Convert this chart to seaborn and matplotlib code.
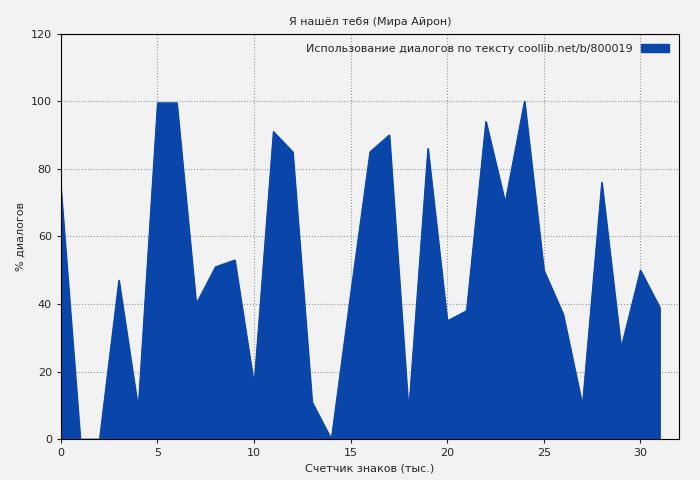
import matplotlib
matplotlib.use("Agg")
import matplotlib.pyplot as plt
import seaborn as sns
import pandas as pd

x_vals = list(range(32))
usage = [74, 0, 0, 47, 9, 99.5, 99.5, 40, 51, 53, 16, 91, 85, 11, 0, 43,
         85, 90, 8, 86, 35, 38, 94, 70, 100, 50, 37, 10, 76, 27, 50, 39]
df = pd.DataFrame({"x": x_vals, "y": usage})

sns.set_style("whitegrid")
plt.rcParams['font.family'] = ['DejaVu Sans']
fig, ax = plt.subplots(figsize=(7, 4.8), dpi=100)
fig.patch.set_facecolor("#f2f2f2")
ax.set_facecolor("#f2f2f2")
color = "#0a46aa"
sns.lineplot(data=df, x="x", y="y", ax=ax, color=color, linewidth=0.8)
ax.fill_between(df["x"], df["y"], 0, color=color, label="Использование диалогов по тексту coollib.net/b/800019")
ax.set_xlim(0, 32)
ax.set_ylim(0, 120)
ax.set_xticks([0, 5, 10, 15, 20, 25, 30])
ax.set_yticks(range(0, 121, 20))
ax.grid(True, linestyle=":", color="#999999", linewidth=0.8)
for s in ax.spines.values():
    s.set_color("black"); s.set_linewidth(0.8)
ax.tick_params(labelsize=8, length=3, direction="out", left=True, bottom=True)
ax.set_xlabel("Счетчик знаков (тыс.)", fontsize=8)
ax.set_ylabel("% диалогов", fontsize=8)
ax.set_title("Я нашёл тебя (Мира Айрон)", fontsize=8)
leg = ax.legend(loc="upper right", fontsize=8, frameon=False, handlelength=2.5, markerfirst=False)
plt.subplots_adjust(left=0.087, right=0.97, top=0.93, bottom=0.085)
fig.savefig("out.png")
